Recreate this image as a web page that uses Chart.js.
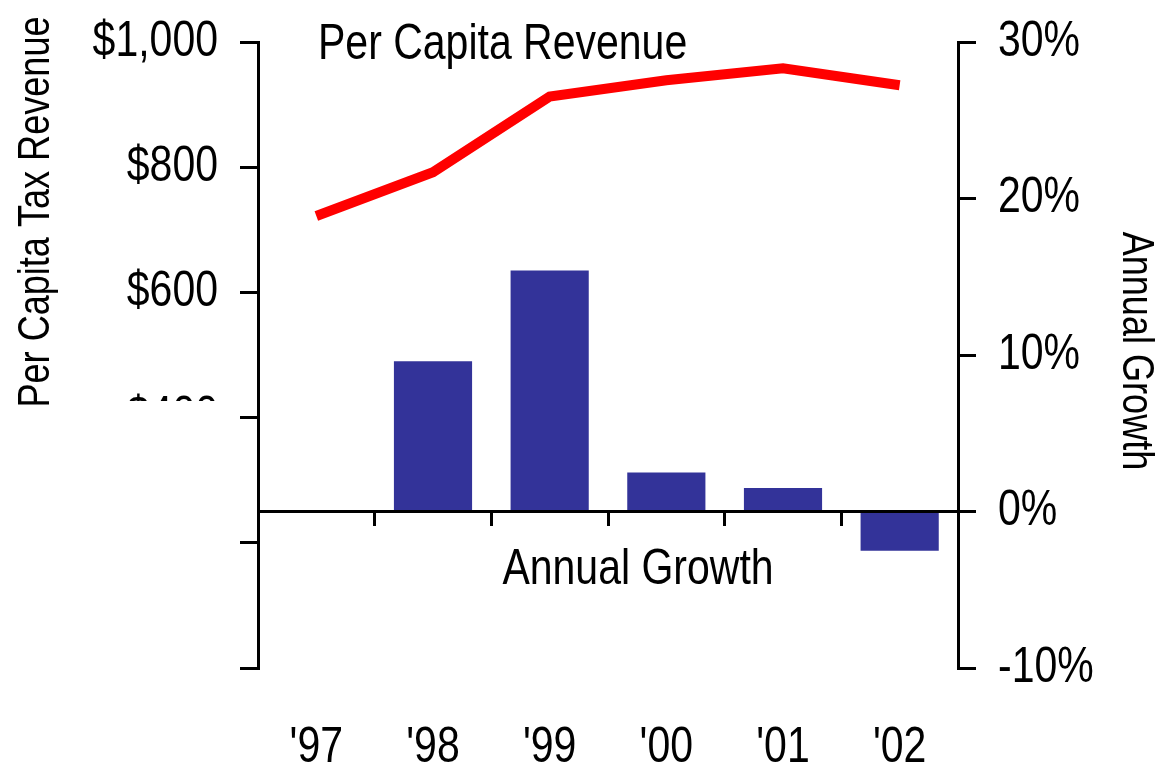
<!DOCTYPE html>
<html>
<head>
<meta charset="utf-8">
<script src="https://cdn.jsdelivr.net/npm/chart.js@4.4.0/dist/chart.umd.min.js"></script>
<style>
    html, body { margin: 0; padding: 0; background: #fff; }
    #wrap { width: 1159px; height: 765px; }
</style>
</head>
<body>
<div id="wrap"><canvas id="chart"></canvas></div>
<script>
const years = ["'97", "'98", "'99", "'00", "'01", "'02"];
const revenue = [722, 792, 913, 939, 958, 931];
const growth = [null, 9.6, 15.4, 2.5, 1.5, -2.5];
const revenueRange = [0, 1000, 200];
const growthRange = [-10, 30, 10];

const FONT = '"Liberation Sans", Arial, sans-serif';
const NARROW = 0.82; // pas de police "narrow" installée : on compresse le texte
Chart.defaults.font.family = FONT;
Chart.defaults.color = "#000";

const canvas = document.getElementById("chart");
const ctx = canvas.getContext("2d");
const rawFillText = ctx.fillText.bind(ctx);
ctx.fillText = function (text, x, y) {
    this.save();
    this.translate(x, y);
    this.scale(NARROW, 1);
    rawFillText(text, 0, 0);
    this.restore();
};

// textes libres + cache blanc sur les libellés bas de l'axe gauche
const annotations = {
    id: "annotations",
    afterDraw(chart) {
        const c = chart.ctx;
        c.save();
        c.fillStyle = "#fff";
        c.fillRect(80, 401, 157, 364);

        c.fillStyle = "#000";
        c.textBaseline = "middle";
        c.font = "50px " + FONT;
        c.textAlign = "left";
        c.fillText("Per Capita Revenue", 318, 45);
        c.textAlign = "center";
        c.fillText("Annual Growth", 638, 570);

        c.font = "44px " + FONT;
        c.save();
        c.translate(37, 212);
        c.rotate(-Math.PI / 2);
        c.fillText("Per Capita Tax Revenue", 0, 0);
        c.restore();

        c.save();
        c.translate(1135, 351);
        c.rotate(Math.PI / 2);
        c.fillText("Annual Growth", 0, 0);
        c.restore();
        c.restore();
    },
};

const axisGrid = { drawOnChartArea: false, tickLength: 18, color: "#000", lineWidth: 3 };
const axisBorder = { color: "#000", width: 3 };

new Chart(ctx, {
    type: "bar",
    data: {
        labels: years,
        datasets: [
            {
                type: "line",
                label: "Per Capita Revenue",
                data: revenue,
                yAxisID: "yL",
                xAxisID: "x",
                borderColor: "#ff0000",
                borderWidth: 10,
                borderJoinStyle: "miter",
                borderCapStyle: "butt",
                pointRadius: 0,
                tension: 0,
            },
            {
                label: "Annual Growth",
                data: growth,
                yAxisID: "yR",
                xAxisID: "x",
                backgroundColor: "#333399",
                barPercentage: 0.67,
                categoryPercentage: 1,
            },
        ],
    },
    options: {
        responsive: true,
        maintainAspectRatio: false,
        animation: false,
        events: [],
        layout: { padding: { top: 42, left: 0, right: 0, bottom: 0 } },
        plugins: { legend: { display: false }, tooltip: { enabled: false } },
        scales: {
            x: {
                type: "category",
                position: "bottom",
                offset: true,
                grid: { display: false },
                border: { display: false },
                ticks: { font: { size: 50 }, padding: 42, maxRotation: 0, autoSkip: false },
                afterFit: s => { s.height = 97; },
            },
            xz: {
                type: "category",
                labels: years,
                position: { yR: 0 },
                offset: true,
                grid: { drawOnChartArea: false, offset: true, tickLength: 13, color: "#000", lineWidth: 3 },
                border: axisBorder,
                ticks: { display: false },
                afterFit: s => { s.height = 0; },
            },
            yL: {
                position: "left",
                min: revenueRange[0],
                max: revenueRange[1],
                grid: axisGrid,
                border: axisBorder,
                ticks: {
                    stepSize: revenueRange[2],
                    font: { size: 50, lineHeight: 0.8 },
                    padding: 22,
                    callback: v => "$" + v.toLocaleString("en-US"),
                },
                afterFit: s => { s.width = 258; },
            },
            yR: {
                position: "right",
                min: growthRange[0],
                max: growthRange[1],
                grid: axisGrid,
                border: axisBorder,
                ticks: {
                    stepSize: growthRange[2],
                    font: { size: 50, lineHeight: 0.8 },
                    padding: 22,
                    callback: v => v + "%",
                },
                afterFit: s => { s.width = 201; },
            },
        },
    },
    plugins: [annotations],
});
</script>
</body>
</html>
